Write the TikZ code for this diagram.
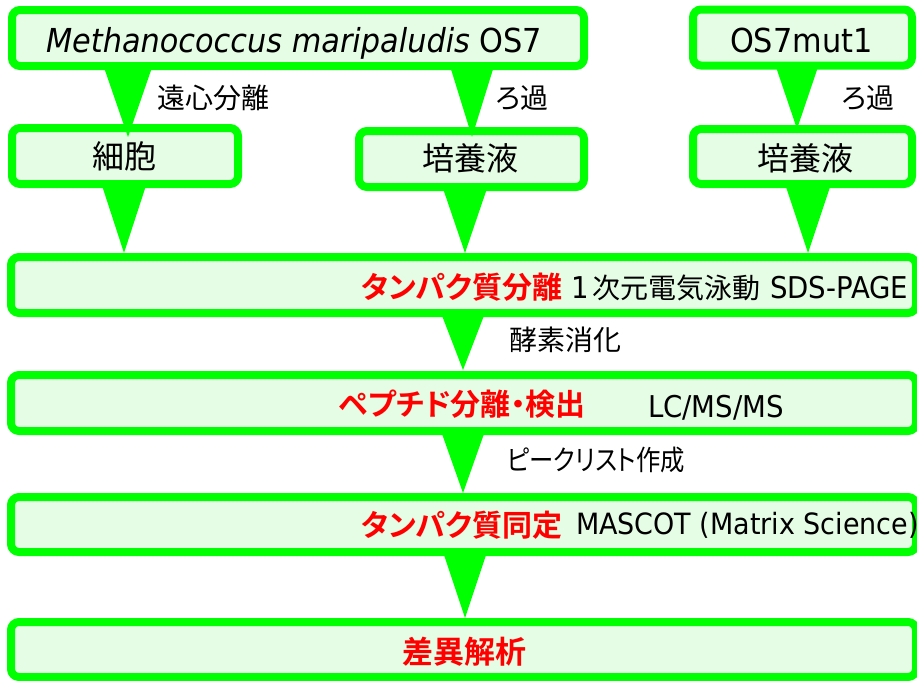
\documentclass[tikz,border=0pt]{standalone}
\usepackage{fontspec}
\usetikzlibrary{calc}
\setmainfont{DejaVu Sans}[FakeStretch=0.92]
\newfontfamily\jp{Noto Sans CJK JP}[RawFeature=+palt, BoldFont={Noto Sans CJK JP Bold}]
\definecolor{G}{RGB}{0,255,0}
\definecolor{LG}{RGB}{229,252,229}
\definecolor{myred}{RGB}{255,0,0}
\newcommand\ftri[5]{\fill[G] (#1-#2,0 |- #3.south) -- (#1+#2,0 |- #3.south) -- ($(#1,0 |- #4.north)+(0,#5)$) -- cycle;}
\begin{document}
\begin{tikzpicture}[x=1pt,y=-1pt,
  box/.style={draw=G, fill=LG, line width=8pt, rounded corners=8pt, inner sep=0pt, outer sep=0pt},
  txt/.style={inner sep=0pt, outer sep=0pt, anchor=base west},
  big/.style={font=\fontsize{33}{36}\selectfont},
  bigjp/.style={font=\jp\fontsize{32}{36}\selectfont},
  lab/.style={font=\jp\fontsize{28}{32}\selectfont},
  mid/.style={font=\fontsize{30}{33}\selectfont},
  midjp/.style={font=\jp\fontsize{28}{32}\selectfont},
  redb/.style={font=\jp\bfseries\fontsize{30}{33}\selectfont, text=myred}]
\useasboundingbox (0,0) rectangle (917,680);
% boxes
\node[box, minimum width=572pt, minimum height=56pt] (A) at (298,38) {};
\node[box, minimum width=219pt, minimum height=56pt] (B) at (802.5,37.5) {};
\node[box, minimum width=226pt, minimum height=56pt] (C) at (125,156) {};
\node[box, minimum width=225pt, minimum height=56pt] (M) at (471.5,159) {};
\node[box, minimum width=219pt, minimum height=55pt] (R) at (802.5,156.5) {};
\node[box, minimum width=905pt, minimum height=56pt] (W1) at (463.5,285) {};
\node[box, minimum width=905pt, minimum height=56pt] (W2) at (463.5,403) {};
\node[box, minimum width=905pt, minimum height=55pt] (W3) at (463.5,524.5) {};
\node[box, minimum width=905pt, minimum height=55pt] (W4) at (463.5,649.5) {};
% arrows
\ftri{128}{24.5}{A}{C}{9}
\ftri{472}{22}{A}{M}{6}
\ftri{797}{21.5}{B}{R}{0}
\ftri{124}{22.5}{C}{W1}{-4}
\ftri{465}{22.5}{M}{W1}{-4}
\ftri{808}{23}{R}{W1}{-4}
\ftri{463}{22}{W1}{W2}{-5}
\ftri{463}{22}{W2}{W3}{-4}
\ftri{465}{22}{W3}{W4}{-4}
% texts
\node[txt, big] (tA) at (46,52) {\textit{Methanococcus maripaludis} OS7};
\node[txt, big] (tB) at (730,52) {OS7mut1};
\node[txt, bigjp] (tC) at (92,168) {細胞};
\node[txt, bigjp] (tM) at (422,170) {培養液};
\node[txt, bigjp] (tR) at (757,170) {培養液};
\node[txt, lab] (l1) at (157,108) {遠心分離};
\node[txt, lab] (l2) at (496,108) {ろ過};
\node[txt, lab] (l3) at (842,108) {ろ過};
\node[txt, lab] (l4) at (509,350) {酵素消化};
\node[txt, lab] (l5) at (507,470) {\scalebox{0.87}[1]{ピークリスト作成}};
\node[txt, redb] (r1) at (361,298) {タンパク質分離};
\node[txt, mid] (w1a) at (571,298) {1};
\node[txt, midjp] (w1b) at (592,298) {次元電気泳動};
\node[txt, mid] (w1c) at (770,298) {SDS-PAGE};
\node[txt, redb] (r2) at (339,415) {ペプチド分離・検出};
\node[txt, mid] (w2) at (648,417) {LC/MS/MS};
\node[txt, redb] (r3) at (361,536) {タンパク質同定};
\node[txt, mid, font=\fontsize{29.3}{33}\selectfont] (w3) at (576,534) {MASCOT (Matrix Science)};
\node[txt, redb, font=\jp\bfseries\fontsize{31}{34}\selectfont] (r4) at (402,663) {差異解析};
\end{tikzpicture}
\end{document}
